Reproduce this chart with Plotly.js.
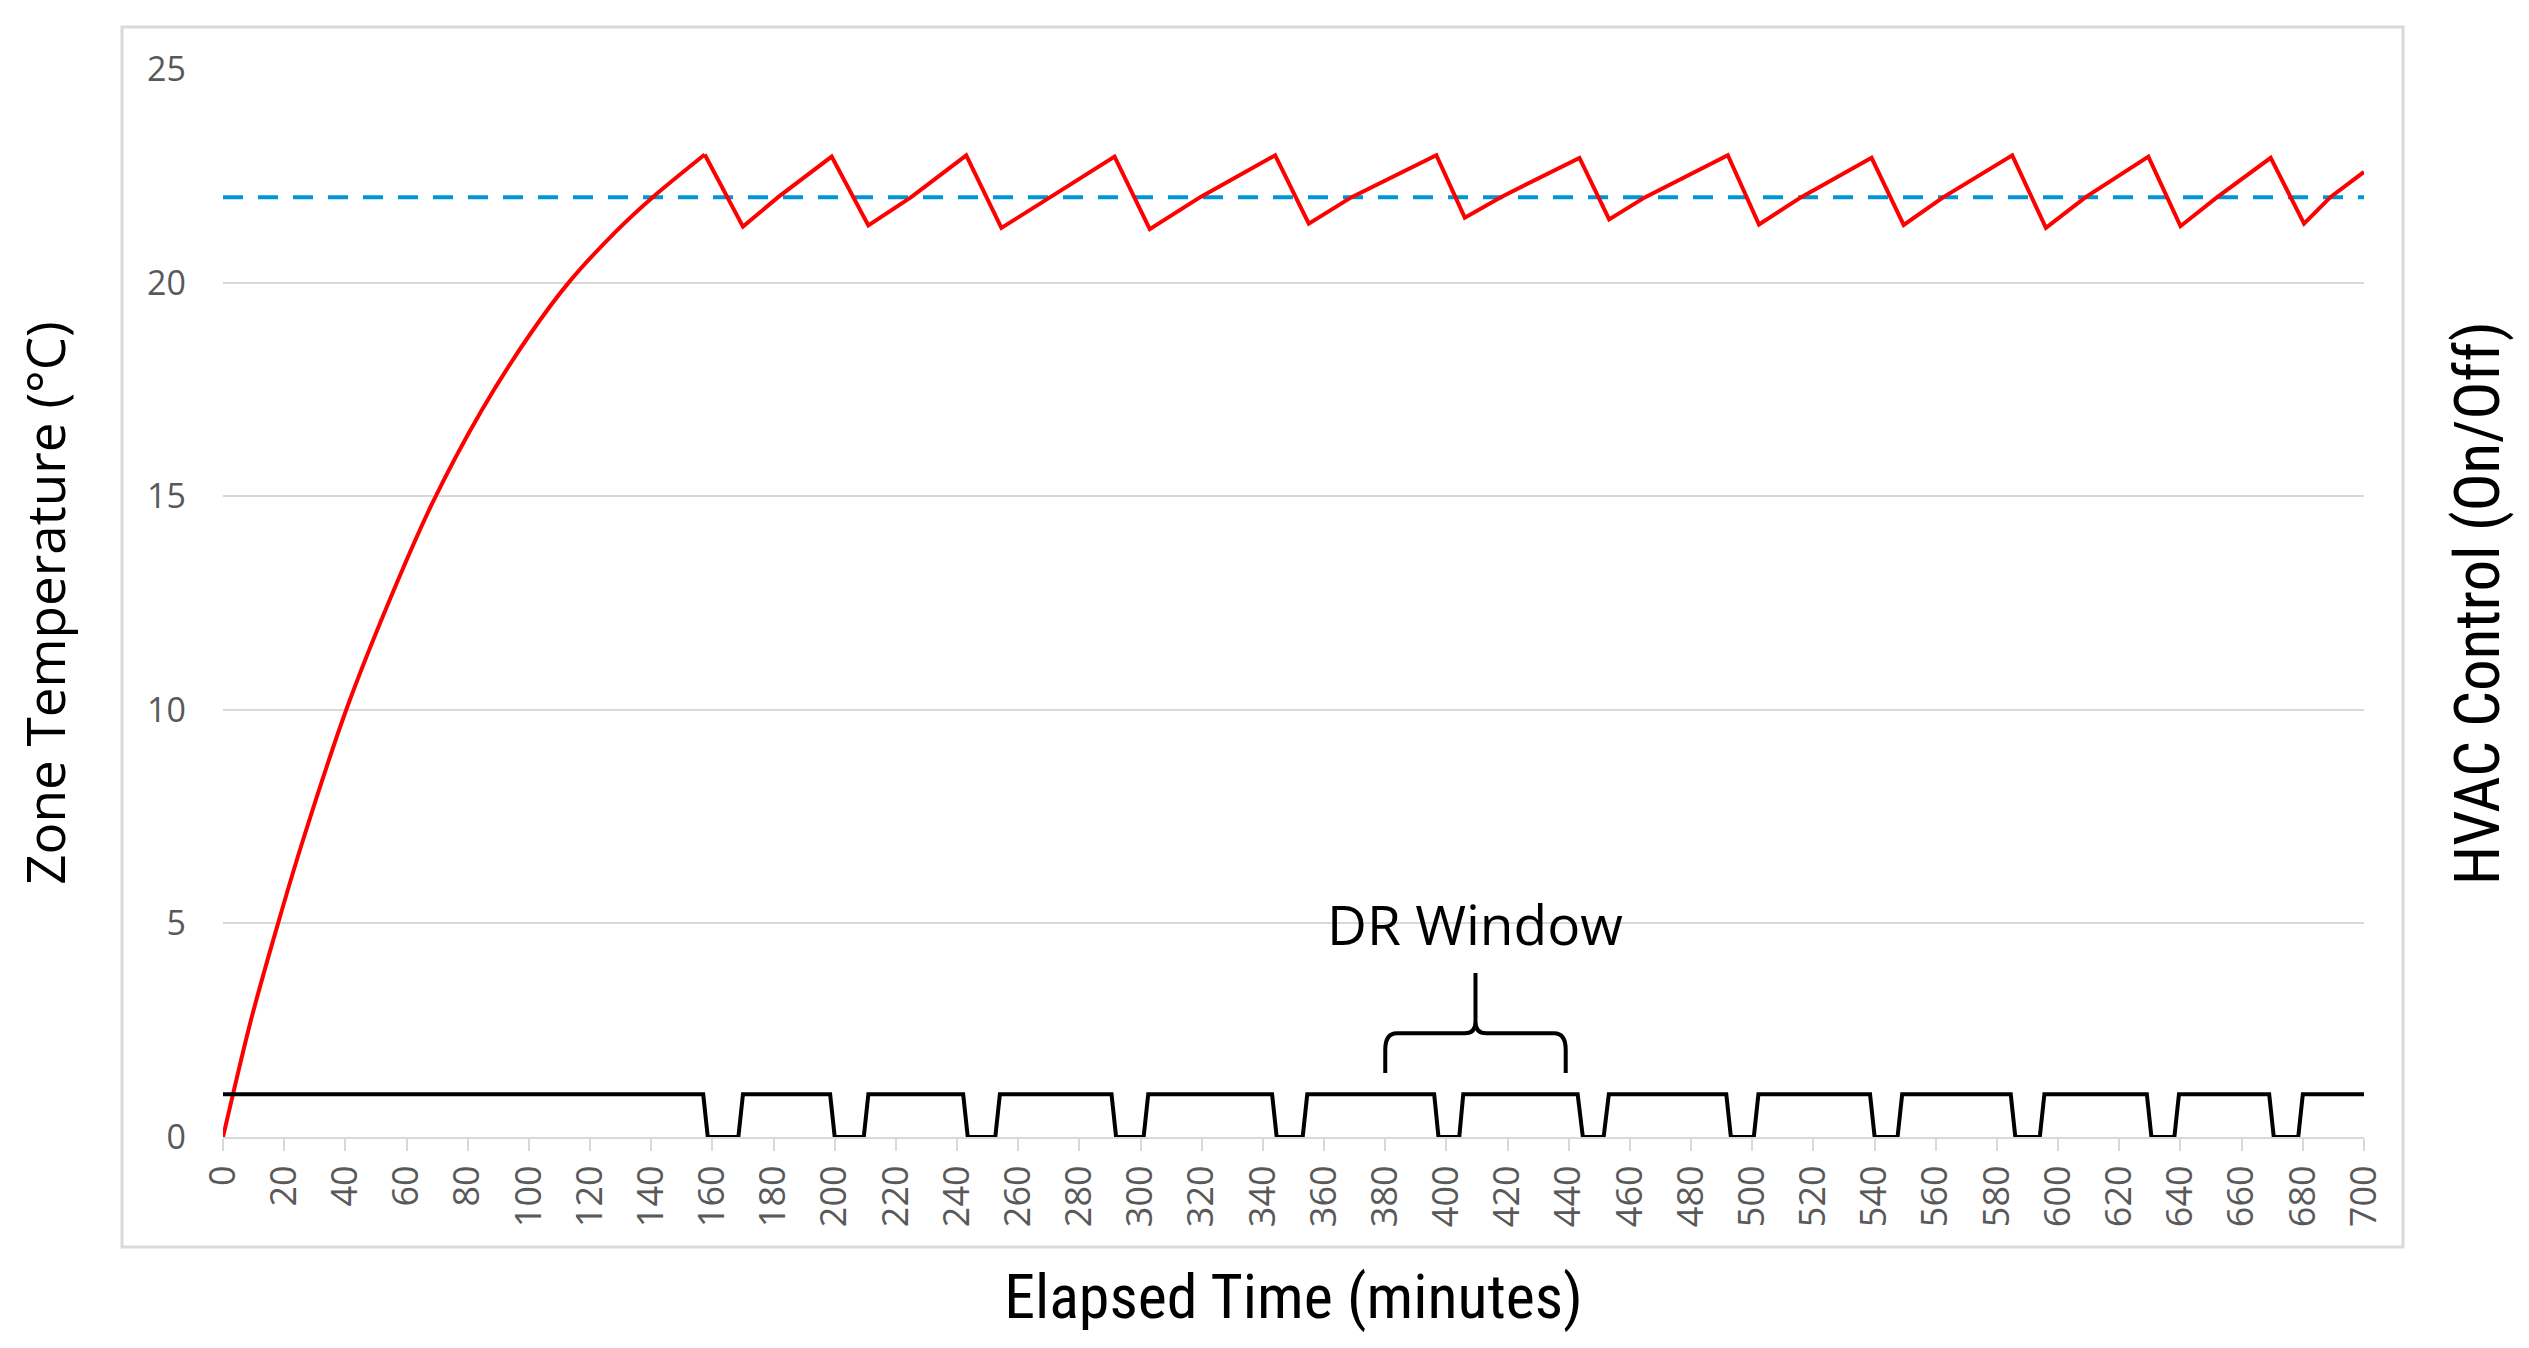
<!DOCTYPE html>
<html>
<head>
<meta charset="utf-8">
<script src="https://cdn.plot.ly/plotly-3.0.1.min.js"></script>
<style>
html, body { margin: 0; padding: 0; background: #ffffff; }
#chart { width: 2529px; height: 1348px; }
</style>
</head>
<body>
<div id="chart"></div>
<script>
// ---- Data ----
// Zone temperature (°C): warm-up from a cold start
const warmupTime = [0, 9, 18, 25.5, 40.3, 53.5, 68.2, 84.5, 100, 113, 128.5, 140.5, 157.5];
const warmupValue = [0, 2.7, 5, 6.8, 10, 12.4, 14.8, 17.0, 18.75, 20, 21.2, 22, 23.0];

// Zone temperature (°C): thermostat cycling after warm-up
const cycleTime = [157.5,
  170, 181.5, 199, 211, 225, 243, 254.5, 270.5, 291.5, 303, 319.5, 344,
  355, 369, 396.7, 406, 417.8, 443.5, 453.2, 465, 492, 502.2, 516, 539,
  549.5, 562.5, 585, 596, 609, 629.5, 640, 652, 669.5, 680.4, 689, 700];
const cycleValue = [23.0,
  21.31, 22, 22.95, 21.34, 22, 22.98, 21.28, 22, 22.95, 21.25, 22, 22.98,
  21.38, 22, 22.98, 21.52, 22, 22.92, 21.48, 22, 22.98, 21.36, 22, 22.92,
  21.35, 22, 22.98, 21.28, 22, 22.95, 21.32, 22, 22.92, 21.38, 22, 22.59];

// Setpoint (dashed blue)
const setpointTime = [0, 700];
const setpointValue = [22, 22];

// HVAC control on/off (1 = on, 0 = off)
const hvacTime = [0,
  157.0, 158.5, 168.5, 170.0,
  198.5, 200.0, 209.5, 211.0,
  242.0, 243.5, 252.5, 254.0,
  290.5, 292.0, 301.0, 302.5,
  343.0, 344.5, 353.0, 354.5,
  396.0, 397.4, 404.2, 405.5,
  442.9, 444.6, 451.4, 453.1,
  491.5, 493.0, 500.5, 502.0,
  538.5, 540.0, 547.5, 549.0,
  584.5, 586.0, 594.0, 595.5,
  629.0, 630.5, 638.0, 639.5,
  669.0, 670.5, 678.5, 680.0,
  700];
const hvacState = [1,
  1, 0, 0, 1,
  1, 0, 0, 1,
  1, 0, 0, 1,
  1, 0, 0, 1,
  1, 0, 0, 1,
  1, 0, 0, 1,
  1, 0, 0, 1,
  1, 0, 0, 1,
  1, 0, 0, 1,
  1, 0, 0, 1,
  1, 0, 0, 1,
  1, 0, 0, 1,
  1];

// Axis ticks
const xTickValues = [0, 20, 40, 60, 80, 100, 120, 140, 160, 180, 200, 220, 240, 260, 280, 300,
  320, 340, 360, 380, 400, 420, 440, 460, 480, 500, 520, 540, 560, 580, 600, 620, 640, 660, 680, 700];
const yTickValues = [0, 5, 10, 15, 20, 25];

// DR window annotation (minutes)
const drWindowStart = 380;
const drWindowEnd = 439;
const drLabel = 'DR Window';

// ---- Layout geometry ----
const W = 2529, H = 1348;
const M = { l: 223, r: 165, t: 69, b: 211 };
const plotW = W - M.l - M.r, plotH = H - M.t - M.b;
function px2paperX(px) { return (px - M.l) / plotW; }
function px2paperY(py) { return (H - M.b - py) / plotH; }

// Brace path in data coordinates
const bEnd = 1.5, bBar = 2.43, bJoin = 2.70, bTop = 3.84;
const bMid = (drWindowStart + drWindowEnd) / 2;
const rx = 3.8, ry = 0.39, cx = 3.5;
const bracePath =
  'M ' + drWindowStart + ',' + bEnd +
  ' L ' + drWindowStart + ',' + (bBar - ry) +
  ' Q ' + drWindowStart + ',' + bBar + ' ' + (drWindowStart + rx) + ',' + bBar +
  ' L ' + (bMid - cx) + ',' + bBar +
  ' Q ' + bMid + ',' + bBar + ' ' + bMid + ',' + bJoin +
  ' L ' + bMid + ',' + bTop +
  ' M ' + bMid + ',' + bJoin +
  ' Q ' + bMid + ',' + bBar + ' ' + (bMid + cx) + ',' + bBar +
  ' L ' + (drWindowEnd - rx) + ',' + bBar +
  ' Q ' + drWindowEnd + ',' + bBar + ' ' + drWindowEnd + ',' + (bBar - ry) +
  ' L ' + drWindowEnd + ',' + bEnd;

const grey = '#595959';
const gridGrey = '#d9d9d9';
const condensed = '"Liberation Sans Narrow", "Arial Narrow", "Roboto Condensed", "Liberation Sans", sans-serif';

const traces = [
  {
    x: setpointTime, y: setpointValue, type: 'scatter', mode: 'lines',
    line: { color: '#0096D6', width: 4, dash: '20px,15px' },
    name: 'Setpoint'
  },
  {
    x: warmupTime, y: warmupValue, type: 'scatter', mode: 'lines',
    line: { color: '#FF0000', width: 4, shape: 'spline', smoothing: 0.8 },
    name: 'Zone Temperature'
  },
  {
    x: cycleTime, y: cycleValue, type: 'scatter', mode: 'lines',
    line: { color: '#FF0000', width: 4 },
    name: 'Zone Temperature (cycling)'
  },
  {
    x: hvacTime, y: hvacState, type: 'scatter', mode: 'lines', yaxis: 'y2',
    line: { color: '#000000', width: 4 },
    name: 'HVAC Control'
  }
];

const layout = {
  width: W, height: H,
  margin: M,
  paper_bgcolor: '#ffffff', plot_bgcolor: '#ffffff',
  showlegend: false,
  hovermode: false,
  font: { family: '"Open Sans", sans-serif', color: '#000000' },
  xaxis: {
    range: [0, 700],
    tickmode: 'array', tickvals: xTickValues, ticktext: xTickValues.map(String),
    tickangle: -90,
    tickfont: { family: '"Open Sans", sans-serif', size: 36, color: grey },
    ticks: 'outside', ticklen: 12, tickwidth: 2, tickcolor: gridGrey,
    ticklabelstandoff: 0,
    showline: true, linecolor: gridGrey, linewidth: 2,
    showgrid: false, zeroline: false,
    automargin: true,
    title: { text: 'Elapsed Time (minutes)', font: { family: condensed, size: 62, color: '#000000' }, standoff: 48 }
  },
  yaxis: {
    range: [0, 25],
    tickmode: 'array', tickvals: yTickValues,
    tickfont: { family: '"Open Sans", sans-serif', size: 34, color: grey },
    ticks: '', ticklabelstandoff: 36,
    showgrid: true, gridcolor: gridGrey, gridwidth: 2,
    showline: false, zeroline: false,
    automargin: true,
    title: { text: 'Zone Temperature (°C)', font: { family: '"Open Sans", sans-serif', size: 53, color: '#000000' }, standoff: 64 }
  },
  yaxis2: {
    range: [0, 25], overlaying: 'y', side: 'right',
    showticklabels: false, ticks: '', showgrid: false, zeroline: false, showline: false,
    automargin: true,
    title: { text: 'HVAC Control (On/Off)', font: { family: condensed, size: 63, color: '#000000' }, standoff: 90 }
  },
  shapes: [
    {
      type: 'rect', xref: 'paper', yref: 'paper', layer: 'below',
      x0: px2paperX(122), x1: px2paperX(2403), y0: px2paperY(1247), y1: px2paperY(27),
      line: { color: gridGrey, width: 3 }, fillcolor: 'rgba(0,0,0,0)'
    },
    {
      type: 'path', xref: 'x', yref: 'y', path: bracePath,
      line: { color: '#000000', width: 4 }
    }
  ],
  annotations: [
    {
      x: bMid, y: 5.0, xref: 'x', yref: 'y', text: drLabel, showarrow: false,
      xanchor: 'center', yanchor: 'middle',
      font: { family: '"Open Sans", sans-serif', size: 55, color: '#000000' }
    }
  ]
};

Plotly.newPlot('chart', traces, layout, { staticPlot: true, displayModeBar: false });
</script>
</body>
</html>
